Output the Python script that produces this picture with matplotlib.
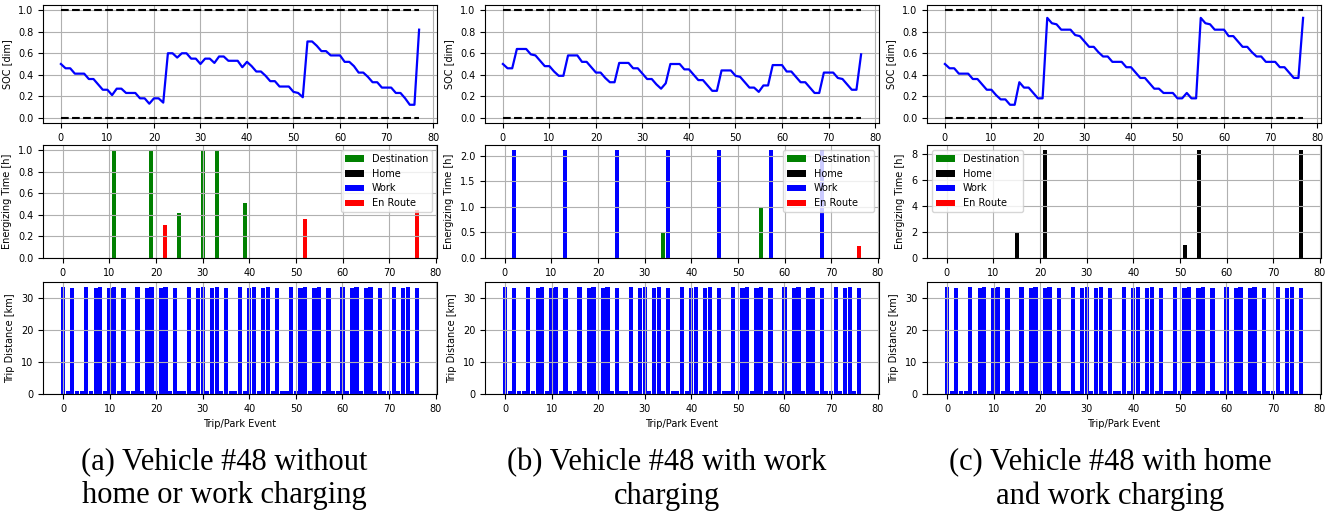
import matplotlib.pyplot as plt
import numpy as np

plt.rcParams['font.size'] = 7

# SOC per trip/park event (0..77)
SOC_A = [0.50, 0.46, 0.46, 0.41, 0.41, 0.41, 0.36, 0.36, 0.31, 0.26,
         0.26, 0.21, 0.27, 0.27, 0.23, 0.23, 0.23, 0.18, 0.18, 0.13,
         0.18, 0.18, 0.14, 0.60, 0.60, 0.56, 0.60, 0.60, 0.55, 0.55,
         0.50, 0.55, 0.55, 0.51, 0.57, 0.57, 0.53, 0.53, 0.53, 0.47,
         0.52, 0.48, 0.43, 0.43, 0.39, 0.34, 0.34, 0.29, 0.29, 0.29,
         0.24, 0.23, 0.19, 0.71, 0.71, 0.67, 0.62, 0.62, 0.58, 0.58,
         0.58, 0.52, 0.52, 0.48, 0.42, 0.42, 0.38, 0.33, 0.33, 0.28,
         0.28, 0.28, 0.23, 0.23, 0.18, 0.12, 0.12, 0.82]
SOC_B = [0.50, 0.46, 0.46, 0.64, 0.64, 0.64, 0.59, 0.58, 0.53, 0.48,
         0.48, 0.43, 0.39, 0.39, 0.58, 0.58, 0.58, 0.52, 0.52, 0.47,
         0.42, 0.42, 0.37, 0.33, 0.33, 0.51, 0.51, 0.51, 0.46, 0.46,
         0.41, 0.36, 0.36, 0.31, 0.27, 0.32, 0.50, 0.50, 0.50, 0.45,
         0.45, 0.40, 0.35, 0.35, 0.30, 0.25, 0.25, 0.44, 0.44, 0.44,
         0.39, 0.38, 0.33, 0.28, 0.28, 0.24, 0.30, 0.30, 0.49, 0.49,
         0.49, 0.43, 0.43, 0.38, 0.33, 0.33, 0.28, 0.23, 0.23, 0.42,
         0.42, 0.42, 0.37, 0.36, 0.31, 0.26, 0.26, 0.59]
SOC_C = [0.50, 0.46, 0.46, 0.41, 0.41, 0.41, 0.36, 0.36, 0.31, 0.26,
         0.26, 0.21, 0.17, 0.17, 0.12, 0.12, 0.33, 0.28, 0.28, 0.23,
         0.18, 0.18, 0.93, 0.88, 0.87, 0.82, 0.82, 0.82, 0.77, 0.76,
         0.71, 0.66, 0.66, 0.61, 0.57, 0.57, 0.52, 0.52, 0.52, 0.47,
         0.47, 0.42, 0.37, 0.37, 0.32, 0.27, 0.27, 0.23, 0.23, 0.23,
         0.18, 0.18, 0.23, 0.18, 0.18, 0.93, 0.88, 0.87, 0.82, 0.82,
         0.82, 0.76, 0.76, 0.71, 0.66, 0.66, 0.61, 0.57, 0.57, 0.52,
         0.52, 0.52, 0.47, 0.47, 0.42, 0.37, 0.37, 0.93]

# Trip distance per event (0..76), same for all three scenarios
TRIP_DIST = [33.3, 1.0, 33.0, 0.8, 0.8, 33.3, 1.0, 33.0, 33.3, 1.0,
             33.0, 33.3, 1.0, 33.0, 0.8, 0.8, 33.3, 1.0, 33.0, 33.3,
             1.0, 33.0, 33.3, 1.0, 33.0, 0.8, 0.8, 33.3, 1.0, 33.0,
             33.3, 1.0, 33.0, 33.3, 1.0, 33.0, 0.8, 0.8, 33.3, 1.0,
             33.0, 33.3, 1.0, 33.0, 33.3, 1.0, 33.0, 0.8, 0.8, 33.3,
             1.0, 33.0, 33.3, 1.0, 33.0, 33.3, 1.0, 33.0, 0.8, 0.8,
             33.3, 1.0, 33.0, 33.3, 1.0, 33.0, 33.3, 1.0, 33.0, 0.8,
             0.8, 33.3, 1.0, 33.0, 33.3, 1.0, 33.0]

# Energizing events: (event index, hours)
DEST_A = [(11, 1.0), (19, 1.0), (25, 0.42), (30, 1.0), (33, 1.0), (39, 0.51)]
HOME_A = []
WORK_A = []
ENROUTE_A = [(22, 0.31), (52, 0.36), (76, 0.45)]

DEST_B = [(34, 0.5), (55, 1.0)]
HOME_B = []
WORK_B = [(2, 2.1), (13, 2.1), (24, 2.1), (35, 2.1), (46, 2.1), (57, 2.1), (68, 2.1)]
ENROUTE_B = [(76, 0.23)]

DEST_C = []
HOME_C = [(15, 2.0), (21, 8.3), (51, 1.0), (54, 8.3), (76, 8.3)]
WORK_C = []
ENROUTE_C = []

CAPTIONS = ['(a) Vehicle #48 without\nhome or work charging',
            '(b) Vehicle #48 with work\ncharging',
            '(c) Vehicle #48 with home\nand work charging']

CHARGE_LABELS = ['Destination', 'Home', 'Work', 'En Route']
CHARGE_COLORS = ['green', 'black', 'blue', 'red']


def toSeries(events, n):
    """Expand (index, value) pairs into a full-length array."""
    y = np.zeros(n)
    for i, v in events:
        y[i] = v
    return y


W, H = 1331, 512
fig = plt.figure(figsize=(W / 100, H / 100), dpi=100)

col_left = [43, 485, 927]
col_w = 394
rows = [(5, 123), (145, 258), (282, 394)]

def pixAxes(left, top, bottom):
    return fig.add_axes([left / W, 1 - bottom / H, col_w / W, (bottom - top) / H])

columns = [
    (SOC_A, [DEST_A, HOME_A, WORK_A, ENROUTE_A], np.arange(0, 1.01, 0.2), 'upper right'),
    (SOC_B, [DEST_B, HOME_B, WORK_B, ENROUTE_B], np.arange(0, 2.01, 0.5), 'upper right'),
    (SOC_C, [DEST_C, HOME_C, WORK_C, ENROUTE_C], np.arange(0, 8.1, 2), 'upper left'),
]
cap_x = [224, 667, 1110]

n_trip = len(TRIP_DIST)
for k, (soc, charges, e_ticks, leg_loc) in enumerate(columns):
    x_soc = np.arange(len(soc))
    x_ev = np.arange(n_trip)

    # SOC panel
    ax1 = pixAxes(col_left[k], *rows[0])
    ax1.plot(x_soc, np.ones(len(soc)), 'k--', lw=1.5)
    ax1.plot(x_soc, np.zeros(len(soc)), 'k--', lw=1.5)
    ax1.plot(x_soc, soc, color='blue', lw=1.6)
    ax1.set_ylabel('SOC [dim]')
    ax1.set_yticks(np.arange(0, 1.01, 0.2))
    ax1.set_xticks(range(0, 81, 10))
    ax1.grid(True)

    # energizing time panel
    ax2 = pixAxes(col_left[k], *rows[1])
    for events, lab, col in zip(charges, CHARGE_LABELS, CHARGE_COLORS):
        ax2.bar(x_ev, toSeries(events, n_trip), width=0.85, color=col, label=lab)
    ax2.set_ylabel('Energizing Time [h]')
    ax2.set_yticks(e_ticks)
    ax2.set_xticks(range(0, 81, 10))
    ax2.grid(True)
    ax2.legend(loc=leg_loc, fontsize=7)

    # trip distance panel
    ax3 = pixAxes(col_left[k], *rows[2])
    ax3.bar(x_ev, TRIP_DIST, width=0.9, color='blue')
    ax3.set_ylabel('Trip Distance [km]')
    ax3.set_xlabel('Trip/Park Event')
    ax3.set_yticks([0, 10, 20, 30])
    ax3.set_xticks(range(0, 81, 10))
    ax3.grid(True)

    fig.text(cap_x[k] / W, 1 - 479 / H, CAPTIONS[k], ha='center', va='center',
             fontsize=22, family='Liberation Serif', linespacing=1.22)

fig.savefig('out.png', dpi=100)
